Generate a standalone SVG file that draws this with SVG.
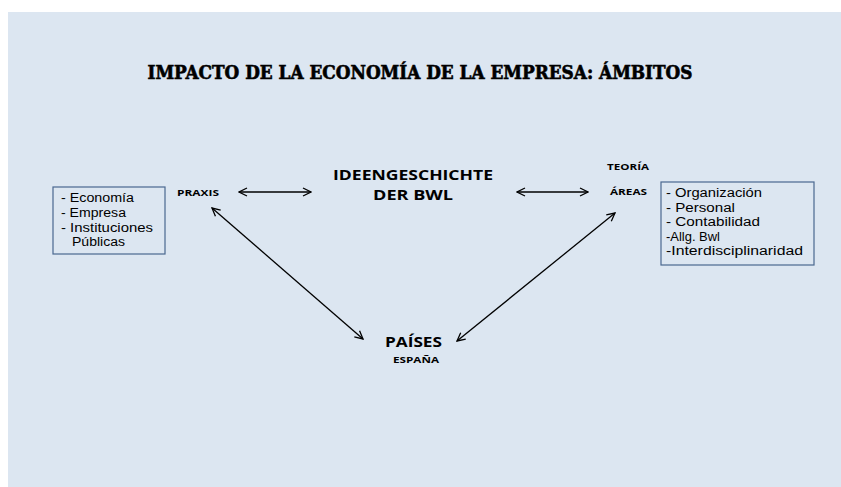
<svg xmlns="http://www.w3.org/2000/svg" width="841" height="487" viewBox="0 0 841 487">
<defs>
<style>
.t{font-family:"Open Sans","Liberation Sans",sans-serif;fill:#000}
.s{font-family:"Liberation Sans","Open Sans",sans-serif;fill:#000}
.b{font-weight:bold}
.box{fill:none;stroke:#4a6890;stroke-width:1.2}
.c{stroke:#000;stroke-width:1.3;fill:none;marker-start:url(#ah);marker-end:url(#ah)}
</style>
<marker id="ah" viewBox="0 0 10 10" refX="9" refY="5" markerWidth="10" markerHeight="10" markerUnits="userSpaceOnUse" orient="auto-start-reverse">
<path d="M1,1 L9,5 L1,9" fill="none" stroke="#000" stroke-width="1.3"/>
</marker>
</defs>
<rect x="0" y="0" width="841" height="487" fill="#ffffff"/>
<rect x="8" y="12" width="833" height="475" fill="#dce6f1"/>
<g id="title">
<text x="420" y="79" text-anchor="middle" stroke="#000" stroke-width="0.6" style="font-family:'DejaVu Serif','Liberation Serif',serif;font-weight:900;font-stretch:condensed;font-size:19px" textLength="545" lengthAdjust="spacingAndGlyphs">IMPACTO DE LA ECONOMÍA DE LA EMPRESA: ÁMBITOS</text>
</g>
<g id="connectors">
<line class="c" x1="239" y1="192" x2="311" y2="192"/>
<line class="c" x1="517" y1="192" x2="588" y2="192"/>
<line class="c" x1="212" y1="208" x2="363" y2="339"/>
<line class="c" x1="615" y1="213" x2="457" y2="341"/>
</g>
<g id="box-left">
<rect class="box" x="53" y="187" width="112" height="67"/>
<text class="s" font-size="12.5" x="61" y="202" textLength="73" lengthAdjust="spacingAndGlyphs">- Economía</text>
<text class="s" font-size="12.5" x="61" y="217" textLength="65" lengthAdjust="spacingAndGlyphs">- Empresa</text>
<text class="s" font-size="12.5" x="61" y="232" textLength="92" lengthAdjust="spacingAndGlyphs">- Instituciones</text>
<text class="s" font-size="12.5" x="72" y="246" textLength="53" lengthAdjust="spacingAndGlyphs">Públicas</text>
</g>
<g id="praxis">
<text class="t b" font-size="9" x="177" y="196" textLength="42" lengthAdjust="spacingAndGlyphs">PRAXIS</text>
</g>
<g id="ideengeschichte">
<text class="t b" font-size="14.5" x="413" y="180" text-anchor="middle" textLength="160" lengthAdjust="spacingAndGlyphs">IDEENGESCHICHTE</text>
<text class="t b" font-size="14.5" x="413" y="200" text-anchor="middle" textLength="80" lengthAdjust="spacingAndGlyphs">DER BWL</text>
</g>
<g id="teoria">
<text class="t b" font-size="9" x="607" y="170" textLength="42" lengthAdjust="spacingAndGlyphs">TEORÍA</text>
<text class="t b" font-size="9" x="610" y="195" textLength="37" lengthAdjust="spacingAndGlyphs">ÁREAS</text>
</g>
<g id="box-right">
<rect class="box" x="661" y="182" width="153" height="83"/>
<text class="s" font-size="12.5" x="666" y="197" textLength="96" lengthAdjust="spacingAndGlyphs">- Organización</text>
<text class="s" font-size="12.5" x="666" y="212" textLength="69" lengthAdjust="spacingAndGlyphs">- Personal</text>
<text class="s" font-size="12.5" x="666" y="226" textLength="94" lengthAdjust="spacingAndGlyphs">- Contabilidad</text>
<text class="s" font-size="12.5" x="666" y="241" textLength="54" lengthAdjust="spacingAndGlyphs">-Allg. Bwl</text>
<text class="s" font-size="12.5" x="666" y="255" textLength="137" lengthAdjust="spacingAndGlyphs">-Interdisciplinaridad</text>
</g>
<g id="paises">
<text class="t b" font-size="14.5" x="413.5" y="347" text-anchor="middle" textLength="57" lengthAdjust="spacingAndGlyphs">PAÍSES</text>
<text class="t b" font-size="8.5" x="416" y="363" text-anchor="middle" textLength="46" lengthAdjust="spacingAndGlyphs">ESPAÑA</text>
</g>
</svg>
